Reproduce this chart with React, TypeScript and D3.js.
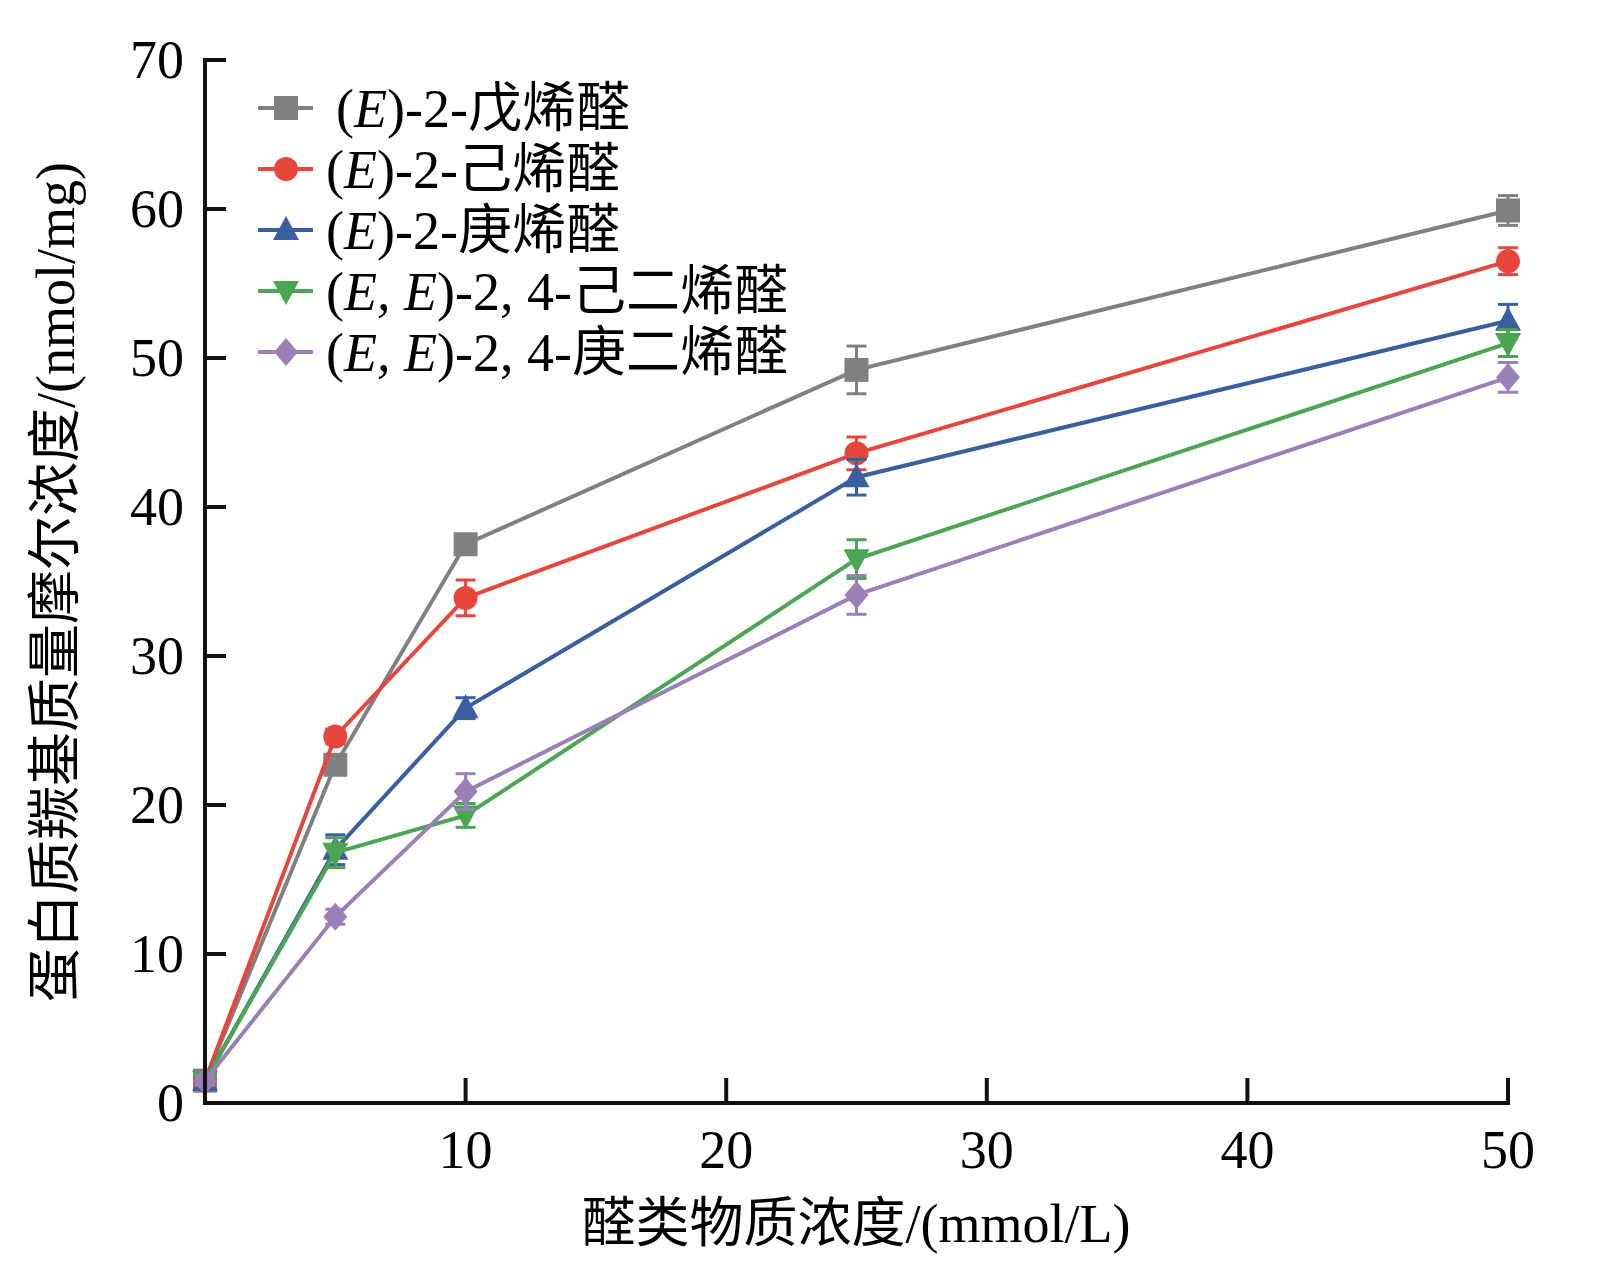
import React from 'react';
import * as d3 from 'd3';

const xValues = [0, 5, 10, 25, 50];
const seriesNames = ['戊烯醛', '己烯醛', '庚烯醛', '己二烯醛', '庚二烯醛'];
const grayVals = [1.5, 22.7, 37.5, 49.2, 59.9];
const redVals = [1.5, 24.6, 33.9, 43.6, 56.5];
const blueVals = [1.5, 17.0, 26.5, 42.0, 52.5];
const greenVals = [1.5, 16.8, 19.3, 36.5, 51.0];
const purpleVals = [1.5, 12.5, 20.9, 34.1, 48.7];
const grayErr = [0.3, 0.5, 0.6, 1.6, 1.0];
const redErr = [0.3, 0.5, 1.2, 1.1, 0.9];
const blueErr = [0.3, 1.0, 0.7, 1.2, 1.1];
const greenErr = [0.3, 1.0, 0.8, 1.3, 0.9];
const purpleErr = [0.3, 0.5, 1.2, 1.3, 1.0];
const xTicks = [10, 20, 30, 40, 50];
const yTicks = [0, 10, 20, 30, 40, 50, 60, 70];

const series = [
  { vals: grayVals, err: grayErr, color: '#808080', marker: 'square' },
  { vals: redVals, err: redErr, color: '#e8453c', marker: 'circle' },
  { vals: blueVals, err: blueErr, color: '#3a5fa0', marker: 'triangle' },
  { vals: greenVals, err: greenErr, color: '#4ca552', marker: 'down' },
  { vals: purpleVals, err: purpleErr, color: '#9b80b8', marker: 'diamond' },
];

const x = d3.scaleLinear().domain([0, 50]).range([197, 1500]);
const y = d3.scaleLinear().domain([0, 70]).range([1095, 52]);
const font = '"Liberation Serif", "Noto Sans CJK SC", serif';

function Marker({ type, cx, cy, color }: { type: string; cx: number; cy: number; color: string }) {
  const s = 12;
  if (type === 'square') return <rect x={cx - s} y={cy - s} width={2 * s} height={2 * s} fill={color} />;
  if (type === 'circle') return <circle cx={cx} cy={cy} r={s} fill={color} />;
  if (type === 'triangle') return <path d={`M${cx},${cy - s - 2}L${cx + s + 1},${cy + s - 2}L${cx - s - 1},${cy + s - 2}Z`} fill={color} />;
  if (type === 'down') return <path d={`M${cx},${cy + s + 2}L${cx + s + 1},${cy - s + 2}L${cx - s - 1},${cy - s + 2}Z`} fill={color} />;
  return <path d={`M${cx},${cy - s - 2}L${cx + s},${cy}L${cx},${cy + s + 2}L${cx - s},${cy}Z`} fill={color} />;
}

const legendE = ['E', 'E', 'E', 'E, E', 'E, E'];
const legendMid = [')-2-', ')-2-', ')-2-', ')-2, 4-', ')-2, 4-'];

export default function App() {
  const line = d3.line<number>().x((_, i) => x(xValues[i])).y((d) => y(d));
  return (
    <svg width={1590} height={1260} style={{ background: '#fff', display: 'block' }} fontFamily={font}>
      {series.map((s, k) => (
        <g key={k}>
          <path d={line(s.vals) || ''} fill="none" stroke={s.color} strokeWidth={4} />
          {s.vals.map((v, i) => (
            <g key={i} stroke={s.color} strokeWidth={3}>
              <line x1={x(xValues[i])} x2={x(xValues[i])} y1={y(v - s.err[i])} y2={y(v + s.err[i])} />
              <line x1={x(xValues[i]) - 10} x2={x(xValues[i]) + 10} y1={y(v - s.err[i])} y2={y(v - s.err[i])} />
              <line x1={x(xValues[i]) - 10} x2={x(xValues[i]) + 10} y1={y(v + s.err[i])} y2={y(v + s.err[i])} />
            </g>
          ))}
          {s.vals.map((v, i) => (
            <Marker key={i} type={s.marker} cx={x(xValues[i])} cy={y(v)} color={s.color} />
          ))}
        </g>
      ))}
      <line x1={197} x2={1502} y1={1095} y2={1095} stroke="#111" strokeWidth={4} />
      <line x1={197} x2={197} y1={50} y2={1097} stroke="#111" strokeWidth={4} />
      {xTicks.map((t) => (
        <g key={t}>
          <line x1={x(t)} x2={x(t)} y1={1095} y2={1070} stroke="#111" strokeWidth={4} />
          <text x={x(t)} y={1160} fontSize={54} textAnchor="middle">{t}</text>
        </g>
      ))}
      {yTicks.map((t) => (
        <g key={t}>
          <line x1={197} x2={218} y1={y(t)} y2={y(t)} stroke="#111" strokeWidth={4} />
          <text x={176} y={y(t) + 18} fontSize={54} textAnchor="end">{t}</text>
        </g>
      ))}
      <text x={848} y={1234} fontSize={54} textAnchor="middle">醛类物质浓度/(mmol/L)</text>
      <text transform="translate(66,574) rotate(-90)" fontSize={54} textAnchor="middle">蛋白质羰基质量摩尔浓度/(nmol/mg)</text>
      {series.map((s, k) => {
        const ly = 100 + k * 61;
        return (
          <g key={k}>
            <line x1={250} x2={305} y1={ly} y2={ly} stroke={s.color} strokeWidth={4} />
            <Marker type={s.marker} cx={278} cy={ly} color={s.color} />
            <text x={k === 0 ? 328 : 318} y={ly + 19} fontSize={54}>
              (<tspan fontStyle="italic">{legendE[k]}</tspan>{legendMid[k]}{seriesNames[k]}
            </text>
          </g>
        );
      })}
    </svg>
  );
}
